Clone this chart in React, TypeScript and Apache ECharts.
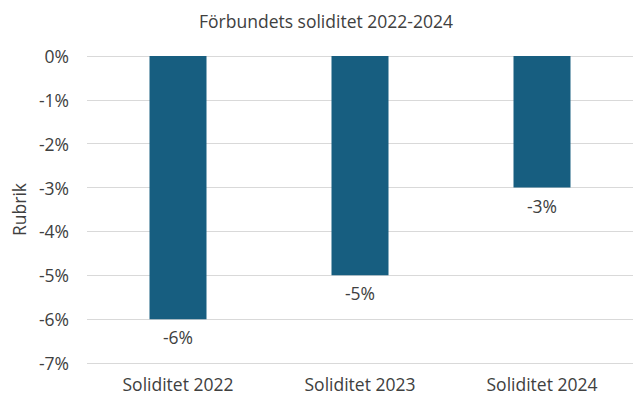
import React, { useEffect, useRef } from "react";
import * as echarts from "echarts";

const title = "Förbundets soliditet 2022-2024";
const categories = ["Soliditet 2022", "Soliditet 2023", "Soliditet 2024"];
const values = [-6, -5, -3];
const yAxisName = "Rubrik";

export default function App() {
  const ref = useRef<HTMLDivElement>(null);
  useEffect(() => {
    if (!ref.current) return;
    const chart = echarts.init(ref.current, null, { renderer: "svg" });
    const font = "'Open Sans', sans-serif";
    chart.setOption({
      animation: false,
      backgroundColor: "#ffffff",
      title: {
        text: title,
        left: 321,
        textAlign: "center",
        top: 7,
        textStyle: { fontFamily: font, fontSize: 17.5, fontWeight: "normal", color: "#404040" },
      },
      grid: { left: 87, right: 0, top: 56, bottom: 38 },
      xAxis: {
        type: "category",
        data: categories,
        position: "bottom",
        axisLine: { show: false },
        axisTick: { show: false },
        axisLabel: { fontFamily: font, fontSize: 17.5, color: "#404040", margin: 12 },
      },
      yAxis: {
        type: "value",
        min: -7,
        max: 0,
        interval: 1,
        name: yAxisName,
        nameLocation: "middle",
        nameGap: 58,
        nameTextStyle: { fontFamily: font, fontSize: 17.5, color: "#404040" },
        axisLabel: {
          fontFamily: font,
          fontSize: 17.5,
          color: "#404040",
          margin: 18,
          formatter: (v: number) => `${v}%`,
        },
        splitLine: { lineStyle: { color: "#d9d9d9", width: 1 } },
      },
      series: [
        {
          type: "bar",
          data: values,
          barWidth: 57,
          itemStyle: { color: "#175e80" },
          label: {
            show: true,
            position: "bottom",
            distance: 9,
            fontFamily: font,
            fontSize: 17.5,
            color: "#404040",
            formatter: (p: any) => `${p.value}%`,
          },
        },
      ],
    });
    return () => chart.dispose();
  }, []);
  return (
    <div
      ref={ref}
      style={{ position: "fixed", left: 0, top: 0, width: 633, height: 401 }}
    />
  );
}
